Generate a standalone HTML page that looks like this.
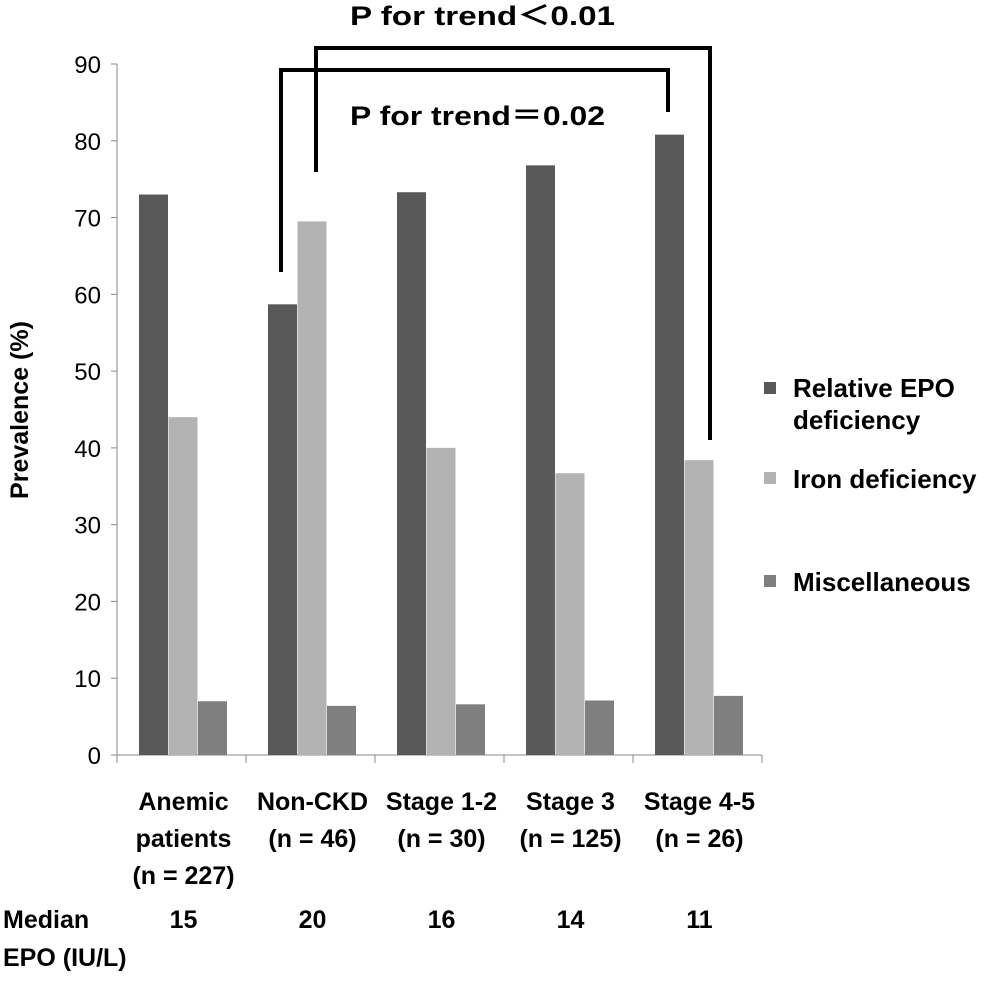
<!DOCTYPE html>
<html><head><meta charset="utf-8"><style>
body{margin:0;background:#fff;}
svg text{font-family:"Liberation Sans","Noto Sans CJK JP",sans-serif;font-weight:bold;fill:#000;}
</style></head><body>
<svg id="chart" width="995" height="978" viewBox="0 0 995 978" xmlns="http://www.w3.org/2000/svg">
<g id="axes"></g><g id="bars"></g>
<g fill="none" stroke="#000" stroke-width="4">
<polyline points="316,172 316,48 710,48 710,440"/>
<polyline points="281,272 281,70 668,70 668,112"/>
</g>
<text x="350" y="25" font-size="27" textLength="265" lengthAdjust="spacingAndGlyphs">P for trend＜0.01</text>
<text x="350" y="125" font-size="27" textLength="255" lengthAdjust="spacingAndGlyphs">P for trend＝0.02</text>
<text transform="translate(28,410) rotate(-90)" text-anchor="middle" font-size="25">Prevalence (%)</text>
<g font-size="26">
<rect x="764" y="382" width="12" height="12" fill="#595959"/>
<text x="793" y="397">Relative EPO</text>
<text x="793" y="429">deficiency</text>
<rect x="764" y="472" width="12" height="12" fill="#b3b3b3"/>
<text x="793" y="488">Iron deficiency</text>
<rect x="764" y="575" width="12" height="12" fill="#7f7f7f"/>
<text x="793" y="591">Miscellaneous</text>
</g>
<g font-size="25">
<text x="3" y="928">Median</text>
<text x="3" y="966">EPO (IU/L)</text>
</g>
</svg>
<script>
const categories = [["Anemic","patients","(n = 227)"],["Non-CKD","(n = 46)"],["Stage 1-2","(n = 30)"],["Stage 3","(n = 125)"],["Stage 4-5","(n = 26)"]];
const epoDeficiency = [73, 58.7, 73.3, 76.8, 80.8];
const ironDeficiency = [44, 69.5, 40, 36.7, 38.4];
const miscellaneous = [7, 6.4, 6.6, 7.1, 7.7];
const medianEpo = ["15","20","16","14","11"];
const yTicks = [0,10,20,30,40,50,60,70,80,90];

const NS="http://www.w3.org/2000/svg";
const x0=117, groupW=129, y0=755, yTop=64, yMax=90;
const yS=v=>y0-(v/yMax)*(y0-yTop);
const xG=i=>x0+i*groupW;
function mk(tag,attrs,parent){const e=document.createElementNS(NS,tag);for(const k in attrs)e.setAttribute(k,attrs[k]);parent.appendChild(e);return e;}
const axes=document.getElementById('axes'), bars=document.getElementById('bars');
let l=mk('line',{x1:x0,y1:yTop,x2:x0,y2:y0,stroke:'#888','stroke-width':1},axes);


l=mk('line',{x1:x0,y1:y0,x2:xG(categories.length),y2:y0,stroke:'#888','stroke-width':1},axes);


yTicks.forEach(t=>{
 const y=yS(t);
 const tk=mk('line',{x1:x0-6,y1:y,x2:x0,y2:y,stroke:'#888'},axes);
 
 
 const tx=mk('text',{x:x0-16,y:y+9,'text-anchor':'end','font-size':24,style:'font-weight:normal'},axes);
 tx.textContent=t;
 
 
});
for(let i=0;i<=categories.length;i++){
 const tk=mk('line',{x1:xG(i),y1:y0,x2:xG(i),y2:y0+8,stroke:'#888'},axes);
 
 
}
const series=[[epoDeficiency,'#595959','epo'],[ironDeficiency,'#b3b3b3','iron'],[miscellaneous,'#7f7f7f','misc']];
categories.forEach((c,i)=>{
 series.forEach((s,j)=>{
  const v=s[0][i];
  const r=mk('rect',{x:xG(i)+22+j*29.5,y:yS(v),width:29,height:y0-yS(v),fill:s[1]},bars);
  
  
 });
 const cx=xG(i)+groupW/2+2;
 c.forEach((line,k)=>{
  const t=mk('text',{x:cx,y:810+k*37,'text-anchor':'middle','font-size':25},axes);
  t.textContent=line;
  
  
 });
 const m=mk('text',{x:cx,y:928,'text-anchor':'middle','font-size':25},axes);
 m.textContent=medianEpo[i];
 
 
});
</script>
</body></html>
